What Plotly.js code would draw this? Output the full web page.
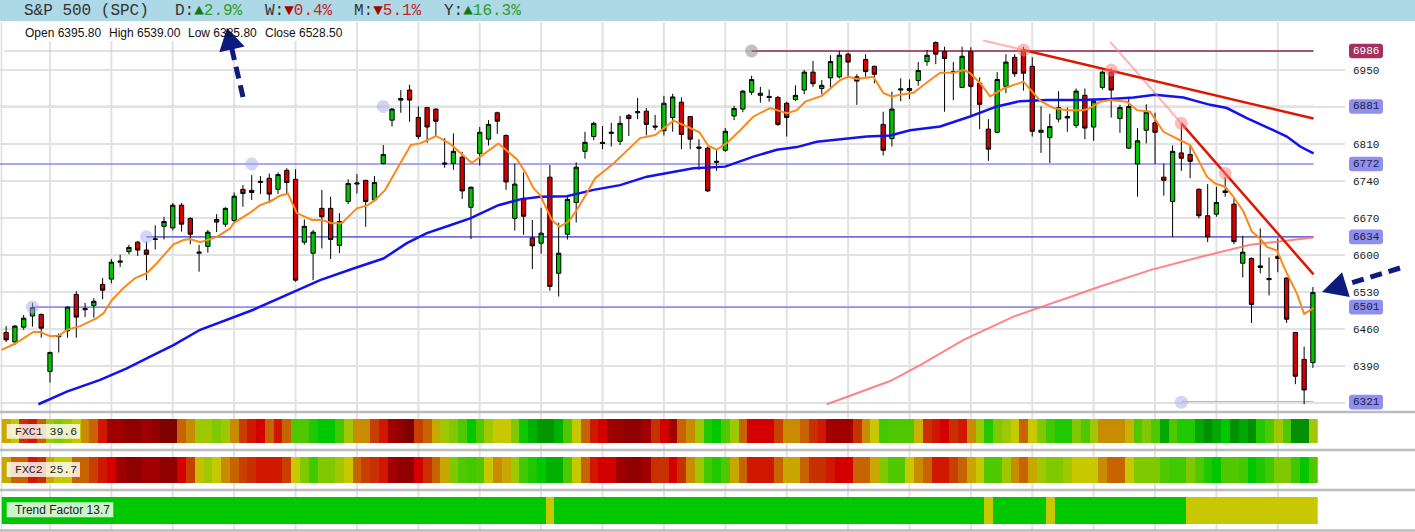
<!DOCTYPE html>
<html>
<head>
<meta charset="utf-8">
<script src="https://cdn.plot.ly/plotly-3.0.1.min.js"></script>
<style>html,body{margin:0;padding:0;background:#fff;}#chart{width:1415px;height:532px;}</style>
</head>
<body>
<div id="chart"></div>
<script>
// ---------------- DATA ----------------
const openP = [6453,6435,6463,6484,6487,6379,6445,6456,6525,6496,
6504,6544,6554,6586,6606,6624,6609,6629,6654,6651,
6694,6669,6603,6616,6667,6658,6665,6724,6722,6737,
6745,6724,6760,6743,6624,6603,6688,6688,6618,6701,
6734,6741,6704,6773,6855,6896,6912,6860,6879,6876,
6774,6773,6785,6690,6792,6819,6869,6826,6669,6707,
6632,6622,6747,6565,6639,6699,6796,6824,6813,6830,
6815,6864,6869,6872,6844,6835,6860,6889,6862,6804,
6802,6775,6798,6863,6876,6908,6902,6900,6898,6887,
6894,6912,6946,6915,6935,6937,6980,6937,6970,6957,
6847,6820,6912,6911,6930,6966,7002,6985,6947,6917,
6985,6925,6838,6832,6919,6974,6988,6957,6832,6822,
6857,6859,6845,6902,6842,6917,6946,6858,6802,6772,
6836,6850,6747,6701,6793,6790,6724,6674,6677,6721,
6696,6584,6593,6576,6553,6597,6556,6453,6402,6395.8];
const highP = [6465,6467,6486,6509,6489,6417,6451,6502,6531,6509,
6518,6556,6592,6600,6619,6626,6625,6656,6672,6698,
6698,6671,6619,6647,6677,6690,6718,6732,6751,6749,
6754,6756,6764,6762,6667,6647,6723,6710,6679,6743,
6753,6742,6749,6808,6878,6912,6922,6881,6880,6877,
6821,6830,6795,6729,6842,6855,6871,6828,6773,6756,
6666,6689,6770,6661,6713,6775,6833,6852,6844,6850,
6863,6867,6897,6878,6865,6901,6905,6898,6863,6819,
6805,6799,6840,6882,6912,6939,6918,6913,6901,6890,
6921,6950,6967,6931,6978,6986,6983,6942,6980,6958,
6871,6909,6934,6932,6965,6988,7004,6994,6965,6994,
6993,6936,6857,6946,6980,6980,6994,6974,6881,6867,
6910,6879,6915,6915,6896,6949,6953,6884,6899,6840,
6885,6869,6773,6807,6848,6806,6726,6734,6729,6747,
6707,6636,6595,6650,6595,6631,6557,6454,6426,6539];
const lowP = [6435,6429,6458,6464,6443,6358,6415,6443,6443,6482,
6481,6516,6546,6577,6601,6598,6552,6610,6629,6646,
6644,6620,6568,6604,6643,6653,6660,6691,6704,6715,
6698,6715,6716,6549,6619,6552,6612,6592,6603,6696,
6716,6653,6701,6771,6843,6869,6852,6819,6812,6824,
6765,6761,6706,6630,6769,6807,6829,6723,6646,6638,
6573,6602,6532,6521,6629,6661,6782,6817,6800,6805,
6808,6825,6857,6826,6836,6826,6833,6800,6800,6761,
6719,6759,6795,6855,6870,6903,6888,6890,6844,6824,
6891,6904,6918,6904,6915,6934,6937,6884,6937,6925,
6788,6805,6891,6895,6920,6958,6961,6871,6893,6916,
6864,6838,6778,6830,6906,6937,6911,6824,6793,6774,
6851,6833,6840,6819,6816,6913,6860,6831,6800,6710,
6811,6772,6712,6634,6759,6745,6669,6624,6672,6710,
6620,6557,6471,6565,6523,6567,6471,6355,6317,6385.8];
const closeP = [6439,6465,6480,6500,6461,6415,6447,6501,6482,6498,
6512,6533,6586,6588,6614,6609,6601,6630,6663,6694,
6658,6639,6605,6643,6662,6688,6711,6716,6718,6739,
6715,6752,6737,6552,6654,6643,6672,6629,6663,6735,
6736,6701,6737,6790,6876,6893,6893,6824,6842,6853,
6772,6796,6721,6728,6832,6847,6853,6738,6734,6673,
6617,6641,6540,6603,6705,6766,6813,6849,6811,6832,
6849,6858,6871,6847,6842,6887,6899,6828,6819,6802,
6721,6777,6834,6877,6910,6932,6906,6898,6847,6860,
6902,6946,6924,6921,6966,6978,6965,6929,6947,6942,
6798,6876,6914,6915,6949,6978,6980,6972,6945,6976,
6919,6885,6800,6932,6965,6943,6944,6834,6836,6843,
6879,6862,6910,6840,6891,6946,6912,6879,6881,6816,
6870,6832,6741,6796,6783,6777,6674,6634,6699,6718,
6625,6605,6506,6579,6555,6593,6478,6370,6344,6528.5];

// short moving average (orange)
const maShortX = [-0.5,1.03,3.11,3.88,5.02,6.08,6.92,8.44,10.34,11.09,12.05,13.38,14.71,16.04,17.18,18.32,19.08,20.22,20.98,22.12,22.88,24.03,25.54,25.92,27.82,28.96,30.1,31.24,32.12,33.15,34.86,36.0,37.14,38.28,39.99,41.13,42.08,43.22,44.93,46.15,47.21,49.03,50.63,53.1,54.81,56.13,58.23,59.18,60.13,60.89,62.22,63.09,64.12,65.07,66.21,67.16,69.25,71.15,72.29,74.0,75.71,76.09,77.62,79.05,80.08,81.04,82.18,83.7,85.21,87.11,89.02,90.16,91.11,93.01,95.1,96.04,97.0,98.89,100.03,100.99,101.94,103.45,105.36,106.5,108.02,109.16,109.92,111.06,112.2,113.72,116.0,116.96,117.9,119.42,120.95,122.84,123.6,124.74,125.88,127.79,128.93,130.44,131.96,133.87,135.01,136.15,136.91,137.86,139.0,139.94,141.08,142.04,142.99,143.75,144.89,146.03,147.17,148.0,149.07];
const maShortY = [6420,6432,6454,6454,6446,6447,6458,6465,6480,6489,6514,6537,6556,6565,6584,6606,6620,6628,6630,6624,6628,6634,6650,6660,6680,6694,6701,6712,6716,6679,6666,6666,6660,6660,6688,6693,6704,6723,6773,6808,6811,6825,6810,6774,6795,6811,6781,6757,6726,6713,6666,6653,6663,6685,6717,6745,6773,6802,6821,6827,6849,6854,6843,6832,6806,6799,6812,6836,6862,6878,6868,6874,6890,6901,6931,6937,6933,6937,6906,6900,6903,6907,6931,6945,6945,6950,6944,6925,6900,6915,6928,6909,6892,6878,6874,6874,6878,6890,6893,6890,6874,6871,6833,6817,6808,6773,6748,6735,6729,6710,6682,6644,6631,6615,6608,6565,6527,6488,6499];
// medium moving average (blue)
const maMidX = [3.68,6.92,10.72,13.76,16.42,19.08,22.12,25.54,28.2,32.01,35.8,39.6,43.02,45.69,47.97,50.63,52.91,56.13,58.61,60.89,63.93,66.97,70.01,73.06,75.71,78.37,81.98,85.21,87.88,90.16,92.44,95.47,98.14,100.8,103.08,106.5,109.92,112.96,115.62,118.67,122.46,125.88,128.54,131.01,134.24,137.29,139.19,141.47,143.75,146.03,147.55,149.07];
const maMidY = [6317,6341,6363,6385,6407,6429,6458,6480,6496,6524,6552,6574,6593,6622,6641,6656,6669,6694,6705,6710,6711,6723,6732,6748,6756,6764,6767,6786,6799,6804,6814,6819,6824,6826,6836,6843,6862,6881,6891,6893,6893,6895,6898,6903,6898,6884,6878,6859,6842,6824,6805,6792];
// long moving average (pink)
const maLongX = [93.58,100.8,104.22,109.16,114.86,118.67,124.74,130.44,136.15,141.85,149.07];
const maLongY = [6317,6361,6391,6439,6483,6505,6540,6571,6596,6619,6633];

// trend lines
const trendAX = [116, 149.07], trendAY = [6988, 6858];
const trendAExtX = [111.4, 116], trendAExtY = [7006, 6988];
const trendBX = [134, 149.07], trendBY = [6849, 6563];
const trendBExtX = [125.9, 134], trendBExtY = [7003, 6849];
const trendPtsX = [116, 126, 134, 139], trendPtsY = [6988, 6950, 6849, 6754];

// horizontal levels
const levelVals  = [6986, 6881, 6772, 6634, 6501, 6321];
const levelStart = [85, -0.7, -0.7, 16, 3, 134];
const levelColors = ['#8e2a4e', '#9a9af6', '#8a8af2', '#6e6ede', '#8c8cf2', '#9c9cf0'];
const levelBadgeBg = ['#a3305f', '#8f8ff0', '#8f8ff0', '#8f8ff0', '#8f8ff0', '#8f8ff0'];
const anchorX = [3, 16, 28, 43, 134], anchorY = [6501, 6634, 6772, 6881, 6321];
const greyAnchorX = [85], greyAnchorY = [6986];

// y axis ticks
const priceTicks = [6320, 6390, 6460, 6530, 6600, 6670, 6740, 6810, 6880, 6950];
const priceTickText = ['', '6390', '6460', '6530', '6600', '6670', '6740', '6810', '', '6950'];
const gridIdx = [5, 12, 19, 26, 33, 40, 47, 54, 61, 68, 75, 82, 89, 96, 103, 110, 117, 124, 131, 138, 145];

// indicator strips
const fxc1 = [-0.3,0,-1.5,-1.8,-1,0.5,1,0.5,0,-0.5,
-1,-1.8,-2.8,-2.8,-3.2,-3.2,-2.8,-3.2,-3.6,-3.6,
-1,-0.5,0.5,0.5,1,0.5,-0.5,-1.3,-1.8,-2,
-1,-1.8,-1,1.5,1.5,2.5,3,3,2,0.5,
-0.5,-0.5,-1.3,-1.8,-2.8,-3.2,-3.6,-1.3,-1,-0.3,
0.5,1,1.5,3,1.5,0.5,0,0,1,2.8,
3.3,3.8,3.8,3.3,1.5,0,-1,-1.8,-2,-2.8,
-3,-3.2,-3.2,-2.8,-1.5,-2,-2.8,-1,-0.5,0.5,
2.5,3,1.5,0.5,-1,-2,-2,-2,-1.3,-0.5,
-0.5,-1,-1.5,-1.8,-2.8,-2.8,-2.8,-1.5,-0.5,0,
2,1.5,1.5,1.5,-0.2,-1.5,-1.8,-2,-1.5,-1.8,
-0.5,0.5,2.5,1,0.5,0,-1,0,1,2,
2.5,2.5,1,1.5,0.5,-0.5,-0.5,-0.5,-0.2,1.5,
1,1.5,3.5,1.5,2.5,2.5,3.5,4,3.5,3,
4,3.5,4,2.5,1.5,0.5,1.5,4,4,0.5];
const fxc2 = [-0.3,-1,-1,-1.8,-1.5,-0.3,0,0,-1,-1,
-1.3,-1.8,-2,-2.8,-3.2,-3.2,-2.8,-2.8,-3.2,-3.2,
-2,-1.3,-0.1,0.5,0,-0.5,-1,-1.3,-1.5,-1.8,
-1.8,-1.8,-1.3,0,1,2,1,1,0.5,0,
-1,-1.3,-1.5,-1.8,-2.8,-3.2,-3.2,-2,-1.5,-1,
-0.3,1,1.5,2,1.5,0,-0.5,-0.3,0.5,2,
2.5,3,3.3,3.3,1.5,0,-1,-1.8,-2,-2,
-2.8,-3.2,-3.2,-2.8,-1.5,-1.5,-2,-1.5,-0.5,0.5,
2,2.5,1.5,-0.3,-1,-1.8,-1.8,-1.8,-1,-0.3,
-0.3,-1,-1.5,-1.5,-1.8,-2,-2,-1,-1,-0.3,
1,1.5,1.5,0,-0.5,-1,-1.8,-1.8,-1.3,-1,
-0.3,0,1.5,1.5,0.5,-0.5,-1,-0.3,0.5,1,
1,0.5,0,0,0,-0.5,-1,-1,0,1,
1,1,1.5,2,2,1,1.5,2.5,3,1.5,
1.5,2,3,2.5,2,1,1,2,3,1.5];
const trendFactor = [1,1,1,1,1,1,1,1,1,1, 1,1,1,1,1,1,1,1,1,1,
1,1,1,1,1,1,1,1,1,1, 1,1,1,1,1,1,1,1,1,1,
1,1,1,1,1,1,1,1,1,1, 1,1,1,1,1,1,1,1,1,1,
1,1,0,1,1,1,1,1,1,1, 1,1,1,1,1,1,1,1,1,1,
1,1,1,1,1,1,1,1,1,1, 1,1,1,1,1,1,1,1,1,1,
1,1,1,1,1,1,1,1,1,1, 1,1,0,1,1,1,1,1,1,0,
1,1,1,1,1,1,1,1,1,1, 1,1,1,1,1,0,0,0,0,0,
0,0,0,0,0,0,0,0,0,0];

// header texts
const headerTitle = 'S&amp;P 500 (SPC)';
const headerStats = [
  {lab:'D:', arrow:'▲', val:'2.9%', up:true, x:172.5},
  {lab:'W:', arrow:'▼', val:'0.4%', up:false, x:262.5},
  {lab:'M:', arrow:'▼', val:'5.1%', up:false, x:352},
  {lab:'Y:', arrow:'▲', val:'16.3%', up:true, x:442}
];
const ohlcItems = [
  {t:'Open 6395.80', x:22.7}, {t:'High 6539.00', x:106.7},
  {t:'Low 6385.80', x:186}, {t:'Close 6528.50', x:263.3}
];
const stripLabels = ['FXC1 39.6', 'FXC2 25.7', 'Trend Factor 13.7'];

// ---------------- LAYOUT HELPERS ----------------
const W = 1415, H = 532;
const px = x => x / W;
const py = y => 1 - y / H;
const idx = openP.map((_, i) => i);
const X_RANGE = [-0.7, 152.66];
const PLOT_RIGHT = 1345;
const MAIN_TOP = 22, MAIN_BOT = 410;
const Y_RANGE = [6306.1, 7040.9];
const pxPerUnit = (MAIN_BOT - MAIN_TOP) / (Y_RANGE[1] - Y_RANGE[0]);

const colorscale = [
  [0, '#700000'], [0.05, '#800000'], [0.1, '#900000'], [0.15, '#a00000'],
  [0.25, '#d40000'], [0.275, '#d01800'], [0.3125, '#c83000'], [0.3375, '#c84000'],
  [0.375, '#c86400'], [0.4375, '#c88c00'], [0.4625, '#c8a800'], [0.5, '#c8c800'],
  [0.5625, '#a0c800'], [0.625, '#80c800'], [0.6875, '#50c800'], [0.75, '#40c800'],
  [0.8125, '#20c800'], [0.875, '#00c800'], [0.9125, '#00b000'], [0.9375, '#00a800'],
  [0.975, '#009800'], [1, '#009000']
];

// ---------------- TRACES ----------------
const traces = [];
traces.push({
  type: 'candlestick', x: idx, open: openP, high: highP, low: lowP, close: closeP,
  xaxis: 'x', yaxis: 'y',
  increasing: {line: {color: '#000', width: 1}, fillcolor: '#00c400'},
  decreasing: {line: {color: '#000', width: 1}, fillcolor: '#d20000'},
  whiskerwidth: 0, hoverinfo: 'skip'
});
traces.push({type:'scatter', mode:'lines', x: maLongX, y: maLongY, line:{color:'rgba(255,110,110,0.85)', width:2}, hoverinfo:'skip'});
traces.push({type:'scatter', mode:'lines', x: maMidX, y: maMidY, line:{color:'#1212ee', width:2.5}, hoverinfo:'skip'});
traces.push({type:'scatter', mode:'lines', x: maShortX, y: maShortY, line:{color:'#fb8a1a', width:2}, hoverinfo:'skip'});
traces.push({type:'scatter', mode:'lines', x: trendAExtX, y: trendAExtY, line:{color:'rgba(255,130,130,0.6)', width:2}, hoverinfo:'skip'});
traces.push({type:'scatter', mode:'lines', x: trendBExtX, y: trendBExtY, line:{color:'rgba(255,130,130,0.6)', width:2}, hoverinfo:'skip'});
traces.push({type:'scatter', mode:'lines', x: trendAX, y: trendAY, line:{color:'#dd1800', width:2.5}, hoverinfo:'skip'});
traces.push({type:'scatter', mode:'lines', x: trendBX, y: trendBY, line:{color:'#dd1800', width:2.5}, hoverinfo:'skip'});
traces.push({type:'scatter', mode:'markers', x: trendPtsX, y: trendPtsY, marker:{size:13, color:'rgba(255,120,120,0.5)', line:{width:0}}, hoverinfo:'skip'});
traces.push({type:'scatter', mode:'markers', x: anchorX, y: anchorY, marker:{size:13, color:'rgba(170,170,240,0.5)', line:{width:0}}, hoverinfo:'skip'});
traces.push({type:'scatter', mode:'markers', x: greyAnchorX, y: greyAnchorY, marker:{size:13, color:'rgba(130,130,130,0.5)', line:{width:0}}, hoverinfo:'skip'});

[fxc1, fxc2].forEach((arr, k) => {
  traces.push({type:'heatmap', x: idx, y:[0], z:[arr], zmin:-4, zmax:4, colorscale: colorscale,
    showscale:false, xaxis:'x', yaxis: k === 0 ? 'y2' : 'y3', hoverinfo:'skip'});
});
traces.push({type:'heatmap', x: idx, y:[0], z:[trendFactor], zmin:0, zmax:1,
  colorscale: [[0,'#c8c800'],[1,'#00c800']], showscale:false, xaxis:'x', yaxis:'y4', hoverinfo:'skip'});

// ---------------- SHAPES ----------------
const shapes = [];
// header bar
shapes.push({type:'rect', xref:'paper', yref:'paper', x0:0, x1:1, y0:py(21), y1:1, fillcolor:'#add8e6', line:{width:0}, layer:'below'});
// vertical grid lines through whole chart
gridIdx.forEach(g => shapes.push({type:'line', xref:'x', yref:'paper', x0:g, x1:g, y0:0, y1:py(MAIN_TOP), line:{color:'#e2e2e2', width:2}, layer:'below'}));
// left border
shapes.push({type:'line', xref:'paper', yref:'paper', x0:px(1.5), x1:px(1.5), y0:0, y1:py(MAIN_TOP), line:{color:'#dddddd', width:1.5}, layer:'below'});
// white backing for OHLC text row
shapes.push({type:'rect', xref:'paper', yref:'paper', x0:px(16), x1:px(347), y0:py(41), y1:py(MAIN_TOP), fillcolor:'#ffffff', line:{width:0}, layer:'below'});
// faint full-width line at the top level
shapes.push({type:'line', xref:'x', yref:'y', x0:-0.2, x1:149.07, y0:levelVals[0], y1:levelVals[0], line:{color:'#dcb8bc', width:1.2}, layer:'below'});
// level lines
levelVals.forEach((v, i) => {
  shapes.push({type:'line', xref:'x', yref:'y', x0:levelStart[i], x1:149.07, y0:v, y1:v,
    line:{color:levelColors[i], width: i === 0 ? 1.5 : 1.6}, layer:'below'});
});
// strip separators
[412, 450, 490, 530.5].forEach(y => shapes.push({type:'line', xref:'paper', yref:'paper', x0:0, x1:1, y0:py(y), y1:py(y), line:{color:'#bcbcbc', width:2.5}, layer:'below'}));
// strip label boxes
const stripBoxes = [[6.7, 80, 424, 438.7], [6.7, 80, 462, 477], [6.7, 113.3, 502.3, 517.3]];
stripBoxes.forEach(b => shapes.push({type:'rect', xref:'paper', yref:'paper', x0:px(b[0]), x1:px(b[1]), y0:py(b[3]), y1:py(b[2]), fillcolor:'rgba(255,255,255,0.8)', line:{width:0}, layer:'above'}));
// rounded badges on price axis
const bx0 = px(1349), bx1 = px(1383), rx = px(3);
const halfH = 7.3 / pxPerUnit, ry = 3 / pxPerUnit;
levelVals.forEach((v, i) => {
  const y0 = v - halfH, y1 = v + halfH;
  const p = `M ${bx0+rx},${y0} L ${bx1-rx},${y0} Q ${bx1},${y0} ${bx1},${y0+ry} L ${bx1},${y1-ry} Q ${bx1},${y1} ${bx1-rx},${y1} L ${bx0+rx},${y1} Q ${bx0},${y1} ${bx0},${y1-ry} L ${bx0},${y0+ry} Q ${bx0},${y0} ${bx0+rx},${y0} Z`;
  shapes.push({type:'path', xref:'paper', yref:'y', path:p, fillcolor:levelBadgeBg[i], line:{width:0}, layer:'above'});
});
// dashed navy arrows
const navy = '#0d1b7e';
function arrow(tail, tip, headLen, halfW) {
  const dx = tip[0]-tail[0], dy = tip[1]-tail[1], L = Math.hypot(dx, dy);
  const ux = dx/L, uy = dy/L, bxm = tip[0]-ux*headLen, bym = tip[1]-uy*headLen;
  const c1 = [bxm - uy*halfW, bym + ux*halfW], c2 = [bxm + uy*halfW, bym - ux*halfW];
  shapes.push({type:'line', xref:'paper', yref:'paper', x0:px(tail[0]), y0:py(tail[1]), x1:px(bxm+ux*2), y1:py(bym+uy*2), line:{color:navy, width:5, dash:'12px,7px'}, layer:'above'});
  shapes.push({type:'path', xref:'paper', yref:'paper', path:`M ${px(tip[0])},${py(tip[1])} L ${px(c1[0])},${py(c1[1])} L ${px(c2[0])},${py(c2[1])} Z`, fillcolor:navy, line:{width:0}, layer:'above'});
}
arrow([243, 97], [227, 28], 22, 13);
arrow([1400, 268], [1322, 292], 25, 13);

// ---------------- ANNOTATIONS ----------------
const annotations = [];
annotations.push({xref:'paper', yref:'paper', x:px(22), y:py(11), xanchor:'left', yanchor:'middle', showarrow:false,
  text: headerTitle, font:{family:'Liberation Mono, DejaVu Sans Mono, monospace', size:16, color:'#333'}});
headerStats.forEach(s => {
  const ac = s.up ? '#117711' : '#aa0000', vc = s.up ? '#2f9a2f' : '#c42222';
  annotations.push({xref:'paper', yref:'paper', x:px(s.x), y:py(11), xanchor:'left', yanchor:'middle', showarrow:false,
    text: `${s.lab}<span style="color:${ac}">${s.arrow}</span><span style="color:${vc}">${s.val}</span>`,
    font:{family:'Liberation Mono, DejaVu Sans Mono, monospace', size:16, color:'#333'}});
});
ohlcItems.forEach(o => annotations.push({xref:'paper', yref:'paper', x:px(o.x), y:py(33), xanchor:'left', yanchor:'middle', showarrow:false,
  text:o.t, font:{family:'Liberation Sans, Arial, sans-serif', size:12, color:'#111'}}));
levelVals.forEach((v, i) => annotations.push({xref:'paper', yref:'y', x:px(1366), y:v, xanchor:'center', yanchor:'middle', showarrow:false,
  text:String(v), font:{family:'Liberation Mono, monospace', size:11, color: i === 0 ? '#ffffff' : '#1e1e40'}}));
annotations.push({xref:'paper', yref:'paper', x:px(12.5), y:py(431.5), xanchor:'left', yanchor:'middle', showarrow:false,
  text:stripLabels[0], font:{family:'Liberation Mono, monospace', size:11.5, color:'#222'}});
annotations.push({xref:'paper', yref:'paper', x:px(12.5), y:py(469.5), xanchor:'left', yanchor:'middle', showarrow:false,
  text:stripLabels[1], font:{family:'Liberation Mono, monospace', size:11.5, color:'#222'}});
annotations.push({xref:'paper', yref:'paper', x:px(12.7), y:py(510), xanchor:'left', yanchor:'middle', showarrow:false,
  text:stripLabels[2], font:{family:'Liberation Sans, Arial, sans-serif', size:12, color:'#222'}});

// ---------------- LAYOUT ----------------
const layout = {
  width: W, height: H, margin:{l:0, r:0, t:0, b:0},
  paper_bgcolor:'#ffffff', plot_bgcolor:'rgba(0,0,0,0)', showlegend:false,
  xaxis:{domain:[0, PLOT_RIGHT/W], range:X_RANGE, showgrid:false, zeroline:false, showticklabels:false,
    showline:false, ticks:'', rangeslider:{visible:false}, fixedrange:true, anchor:'y'},
  yaxis:{domain:[py(MAIN_BOT), py(MAIN_TOP)], range:Y_RANGE, side:'right', tickvals:priceTicks, ticktext:priceTickText,
    showgrid:true, gridcolor:'#e2e2e2', gridwidth:2, zeroline:false, showline:false, ticks:'',
    ticklabelstandoff:7, tickfont:{family:'Liberation Mono, monospace', size:11, color:'#1a1a1a'}, fixedrange:true},
  yaxis2:{domain:[py(443), py(419)], range:[-0.5,0.5], visible:false, fixedrange:true},
  yaxis3:{domain:[py(483), py(457)], range:[-0.5,0.5], visible:false, fixedrange:true},
  yaxis4:{domain:[py(524), py(497)], range:[-0.5,0.5], visible:false, fixedrange:true},
  shapes: shapes, annotations: annotations
};

Plotly.newPlot('chart', traces, layout, {staticPlot:true, displayModeBar:false});
</script>
</body>
</html>
